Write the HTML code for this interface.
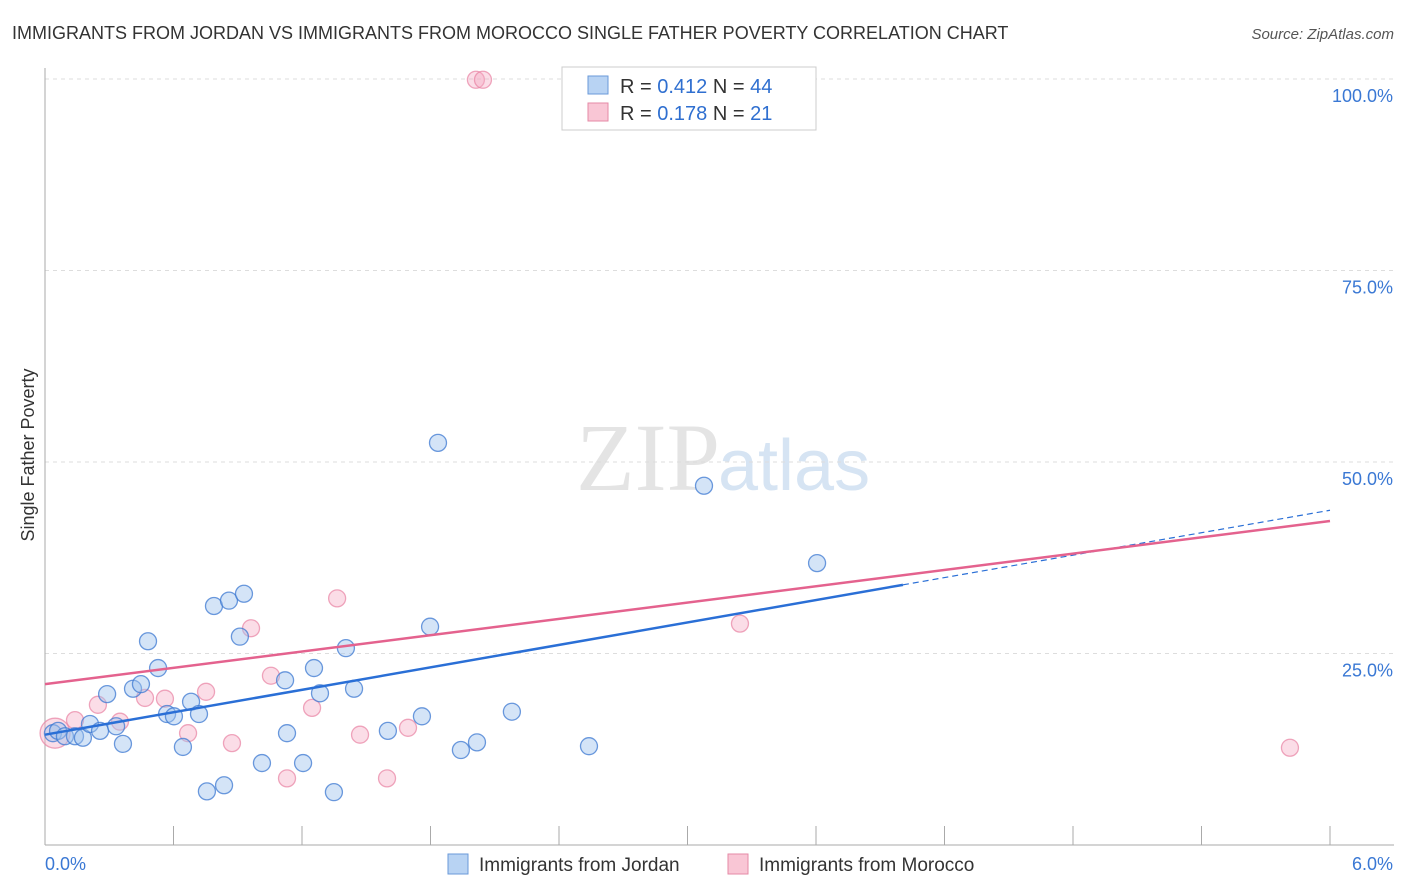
<!DOCTYPE html>
<html><head><meta charset="utf-8"><style>
body{margin:0;background:#fff;font-family:"Liberation Sans",sans-serif}
svg{display:block}
</style></head><body>
<svg width="1406" height="892" xmlns="http://www.w3.org/2000/svg" id="chart">
<text x="12" y="39" font-size="18" fill="#333">IMMIGRANTS FROM JORDAN VS IMMIGRANTS FROM MOROCCO SINGLE FATHER POVERTY CORRELATION CHART</text>
<text x="1394" y="39" font-size="15" fill="#555" font-style="italic" text-anchor="end">Source: ZipAtlas.com</text>
<text x="720" y="490" font-size="96" fill="#e4e4e4" text-anchor="end" font-family="Liberation Serif,serif">ZIP</text>
<text x="718" y="490" font-size="72" fill="#d6e4f3">atlas</text>
<text x="34" y="455" font-size="18" fill="#333" text-anchor="middle" transform="rotate(-90 34 455)">Single Father Poverty</text>
<g id="grid"></g><g id="axes"></g><g id="marks"></g><g id="trend"></g>
<g>
<rect x="562" y="67" width="254" height="63" fill="#fff" stroke="#ccc"/>
<rect x="588" y="76" width="20" height="18" fill="#b8d3f3" stroke="#6a9ad8"/>
<rect x="588" y="103" width="20" height="18" fill="#f9c6d5" stroke="#e58aa6"/>
<text x="620" y="93" font-size="20" fill="#333">R = <tspan fill="#2f6fd0">0.412</tspan>   N = <tspan fill="#2f6fd0">44</tspan></text>
<text x="620" y="120" font-size="20" fill="#333">R = <tspan fill="#2f6fd0">0.178</tspan>   N =  <tspan fill="#2f6fd0">21</tspan></text>
</g>
<g>
<rect x="448" y="854" width="20" height="20" fill="#b8d3f3" stroke="#6a9ad8"/>
<text x="479" y="871" font-size="19" fill="#333">Immigrants from Jordan</text>
<rect x="728" y="854" width="20" height="20" fill="#f9c6d5" stroke="#e58aa6"/>
<text x="759" y="871" font-size="19" fill="#333">Immigrants from Morocco</text>
</g>
</svg>
<script>
const jordanX=[0.037,0.061,0.093,0.140,0.177,0.210,0.257,0.290,0.332,0.364,0.411,0.448,0.481,0.528,0.570,0.602,0.644,0.682,0.719,0.756,0.789,0.836,0.859,0.910,0.929,1.013,1.121,1.130,1.205,1.256,1.284,1.349,1.405,1.443,1.601,1.760,1.798,1.835,1.942,2.017,2.180,2.540,3.077,3.605];
const jordanY=[14.6,14.9,14.2,14.2,14.0,15.8,14.9,19.7,15.5,13.2,20.4,21.0,26.6,23.1,17.1,16.8,12.8,18.7,17.1,7.0,31.2,7.8,31.9,27.2,32.8,10.7,21.5,14.6,10.7,23.1,19.8,6.9,25.7,20.4,14.9,16.8,28.5,52.5,12.4,13.4,17.4,12.9,46.9,36.8];
const moroccoX=[0.047,0.140,0.247,0.350,0.467,0.560,0.668,0.752,0.873,0.962,1.055,1.130,1.247,1.364,1.471,1.597,1.695,2.012,2.045,3.245,5.813];
const moroccoY=[14.6,16.3,18.3,16.1,19.2,19.1,14.6,20.0,13.3,28.3,22.1,8.7,17.9,32.2,14.4,8.7,15.3,99.9,99.9,28.9,12.7];
const jordanTrend=[14.4,43.7];
const jordanTrendSolidEnd=4.006;
const moroccoTrend=[21.0,42.3];
const yTicks=[25,50,75,100];
const yTickLabels=["25.0%","50.0%","75.0%","100.0%"];
const xTickCount=10;

const NS="http://www.w3.org/2000/svg";
const X0=45,X1=1330,Y0=845,Y100=79;
const sx=v=>X0+(v/6)*(X1-X0);
const sy=v=>Y0-(v/100)*(Y0-Y100);
function mk(tag,attrs,parent){const e=document.createElementNS(NS,tag);for(const k in attrs)e.setAttribute(k,attrs[k]);document.getElementById(parent).appendChild(e);return e;}

yTicks.forEach((t,i)=>{
  const l=mk('line',{x1:X0,x2:1394,y1:sy(t),y2:sy(t),stroke:'#ddd','stroke-dasharray':'4,4'},'grid');
  
  
  const tx=mk('text',{x:1393,y:sy(t)+23,'font-size':18,fill:'#3a78d4','text-anchor':'end'},'grid');
  tx.textContent=yTickLabels[i];
  
  
});
const ya=mk('line',{x1:X0,x2:X0,y1:68,y2:Y0,stroke:'#aaa'},'axes');


const xa=mk('line',{x1:X0,x2:1394,y1:Y0,y2:Y0,stroke:'#aaa'},'axes');


for(let i=0;i<=xTickCount;i++){
  const v=6*i/xTickCount;
  const t=mk('line',{x1:sx(v),x2:sx(v),y1:826,y2:Y0,stroke:'#aaa'},'axes');
  
  
}
const xl0=mk('text',{x:45,y:870,'font-size':18,fill:'#3a78d4'},'axes');xl0.textContent='0.0%';


const xl1=mk('text',{x:1393,y:870,'font-size':18,fill:'#3a78d4','text-anchor':'end'},'axes');xl1.textContent='6.0%';



moroccoX.forEach((x,i)=>{
  const c=mk('circle',{cx:sx(x),cy:sy(moroccoY[i]),r:i===0?15:8.5,fill:'rgba(246,170,195,0.4)',stroke:'rgba(232,130,162,0.7)','stroke-width':1.3},'marks');
  
  
});
jordanX.forEach((x,i)=>{
  const c=mk('circle',{cx:sx(x),cy:sy(jordanY[i]),r:8.5,fill:'rgba(160,196,238,0.45)',stroke:'rgba(60,120,210,0.75)','stroke-width':1.3},'marks');
  
  
});
const jy=v=>jordanTrend[0]+(jordanTrend[1]-jordanTrend[0])*v/6;
const j1=mk('line',{x1:sx(0),y1:sy(jordanTrend[0]),x2:sx(jordanTrendSolidEnd),y2:sy(jy(jordanTrendSolidEnd)),stroke:'#2a6fd6','stroke-width':2.5},'trend');


const j2=mk('line',{x1:sx(jordanTrendSolidEnd),y1:sy(jy(jordanTrendSolidEnd)),x2:sx(6),y2:sy(jordanTrend[1]),stroke:'#2a6fd6','stroke-width':1.2,'stroke-dasharray':'6,4'},'trend');


const m1=mk('line',{x1:sx(0),y1:sy(moroccoTrend[0]),x2:sx(6),y2:sy(moroccoTrend[1]),stroke:'#e4628e','stroke-width':2.5},'trend');


</script>
</body></html>
